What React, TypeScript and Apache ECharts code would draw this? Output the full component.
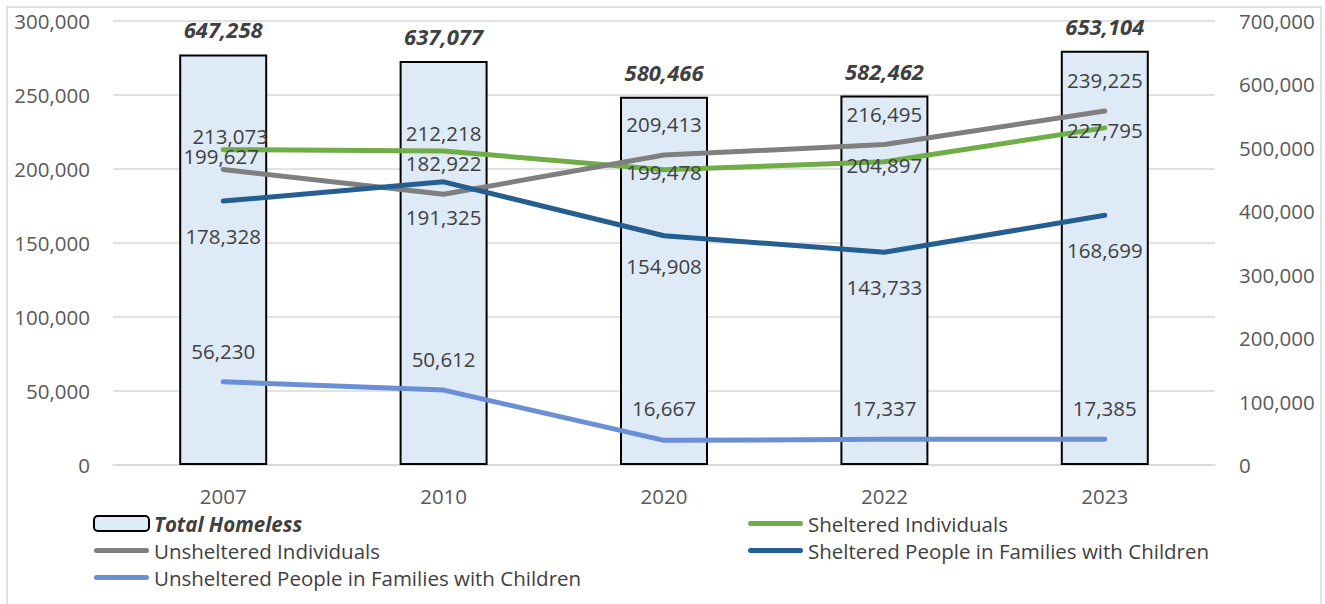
import React, { useEffect, useRef } from "react";
import * as echarts from "echarts";

const years = ["2007", "2010", "2020", "2022", "2023"];
const totalHomeless = [647258, 637077, 580466, 582462, 653104];
const shelteredIndividuals = [213073, 212218, 199478, 204897, 227795];
const unshelteredIndividuals = [199627, 182922, 209413, 216495, 239225];
const shelteredFamilies = [178328, 191325, 154908, 143733, 168699];
const unshelteredFamilies = [56230, 50612, 16667, 17337, 17385];

// label offsets (style only)
const offShelteredInd = [[7, -14], [0, -18], [0, 2], [0, 3], [0, 2]];
const offUnshelteredInd = [[-2, -14], [0, -31], [0, -31], [0, -31], [0, -31]];
const offShelteredFam = [[0, 35], [0, 35], [0, 30], [0, 35], [0, 35]];
const offUnshelteredFam = [[0, -31], [0, -31], [0, -32], [0, -31], [0, -31]];

const FONT = "'Open Sans', sans-serif";
const FS = 20.5;
const fmt = (v: number) => Number(v).toLocaleString("en-US");
const LINE_ICON =
  "path://M2.5,0H52.5A2.5,2.5,0,0,1,52.5,5H2.5A2.5,2.5,0,0,1,2.5,0Z";

function lineSeries(name: string, values: number[], offsets: number[][], color: string, z: number) {
  return {
    name,
    type: "line",
    yAxisIndex: 0,
    z,
    symbol: "circle",
    symbolSize: 1,
    showSymbol: true,
    itemStyle: { color },
    lineStyle: { color, width: 5, cap: "round", join: "round" },
    label: {
      show: true,
      position: "inside",
      formatter: (p: any) => fmt(p.value),
      color: "#404040",
      fontSize: FS,
      fontFamily: FONT,
    },
    data: values.map((v, i) => ({ value: v, label: { offset: offsets[i] } })),
  };
}

export default function App() {
  const ref = useRef<HTMLDivElement>(null);
  useEffect(() => {
    if (!ref.current) return;
    const chart = echarts.init(ref.current, null, { renderer: "svg" });
    const legendText = { fontSize: FS, color: "#404040", fontFamily: FONT, lineHeight: 27 };
    chart.setOption({
      animation: false,
      backgroundColor: "#ffffff",
      textStyle: { fontFamily: FONT },
      graphic: [
        {
          type: "rect",
          shape: { x: 7, y: 7, width: 1314, height: 640 },
          style: { fill: "none", stroke: "#d9d9d9", lineWidth: 1.5 },
          silent: true,
        },
      ],
      grid: { left: 113, right: 110, top: 21, bottom: 139 },
      legend: [
        {
          orient: "vertical",
          left: 93,
          top: 510,
          padding: 0,
          itemWidth: 55,
          itemHeight: 15,
          itemGap: 0,
          textStyle: legendText,
          data: [
            {
              name: "Total Homeless",
              textStyle: { fontWeight: "bold", fontStyle: "italic" },
            },
            { name: "Unsheltered Individuals", icon: LINE_ICON },
            { name: "Unsheltered People in Families with Children", icon: LINE_ICON },
          ],
        },
        {
          orient: "vertical",
          left: 748,
          top: 510,
          padding: 0,
          itemWidth: 55,
          itemHeight: 15,
          itemGap: 0,
          textStyle: legendText,
          data: [
            { name: "Sheltered Individuals", icon: LINE_ICON },
            { name: "Sheltered People in Families with Children", icon: LINE_ICON },
          ],
        },
      ],
      xAxis: {
        type: "category",
        data: years,
        axisLine: { lineStyle: { color: "#d9d9d9", width: 1.5 } },
        axisTick: { show: false },
        axisLabel: { color: "#595959", fontSize: FS, fontFamily: FONT, margin: 20 },
      },
      yAxis: [
        {
          type: "value",
          min: 0,
          max: 300000,
          interval: 50000,
          axisLine: { show: false },
          axisTick: { show: false },
          splitLine: { lineStyle: { color: "#d9d9d9", width: 1.5 } },
          axisLabel: { color: "#595959", fontSize: FS, fontFamily: FONT, margin: 23, formatter: fmt },
        },
        {
          type: "value",
          min: 0,
          max: 700000,
          interval: 100000,
          axisLine: { show: false },
          axisTick: { show: false },
          splitLine: { show: false },
          axisLabel: { color: "#595959", fontSize: FS, fontFamily: FONT, margin: 24, formatter: fmt },
        },
      ],
      series: [
        {
          name: "Total Homeless",
          type: "bar",
          yAxisIndex: 1,
          barWidth: 88,
          z: 1,
          itemStyle: { color: "#DEEBF7", borderColor: "#000000", borderWidth: 2 },
          label: {
            show: true,
            position: "top",
            distance: 14,
            formatter: (p: any) => fmt(p.value),
            color: "#404040",
            fontSize: 22,
            fontWeight: "bold",
            fontStyle: "italic",
            fontFamily: FONT,
          },
          data: totalHomeless,
        },
        lineSeries("Sheltered Individuals", shelteredIndividuals, offShelteredInd, "#70AD47", 3),
        lineSeries("Unsheltered Individuals", unshelteredIndividuals, offUnshelteredInd, "#7F7F7F", 4),
        lineSeries("Sheltered People in Families with Children", shelteredFamilies, offShelteredFam, "#255E91", 5),
        lineSeries("Unsheltered People in Families with Children", unshelteredFamilies, offUnshelteredFam, "#6A8FD5", 6),
      ],
    });
    return () => chart.dispose();
  }, []);
  return (
    <div
      ref={ref}
      style={{ position: "fixed", left: 0, top: 0, width: 1325, height: 604 }}
    />
  );
}
